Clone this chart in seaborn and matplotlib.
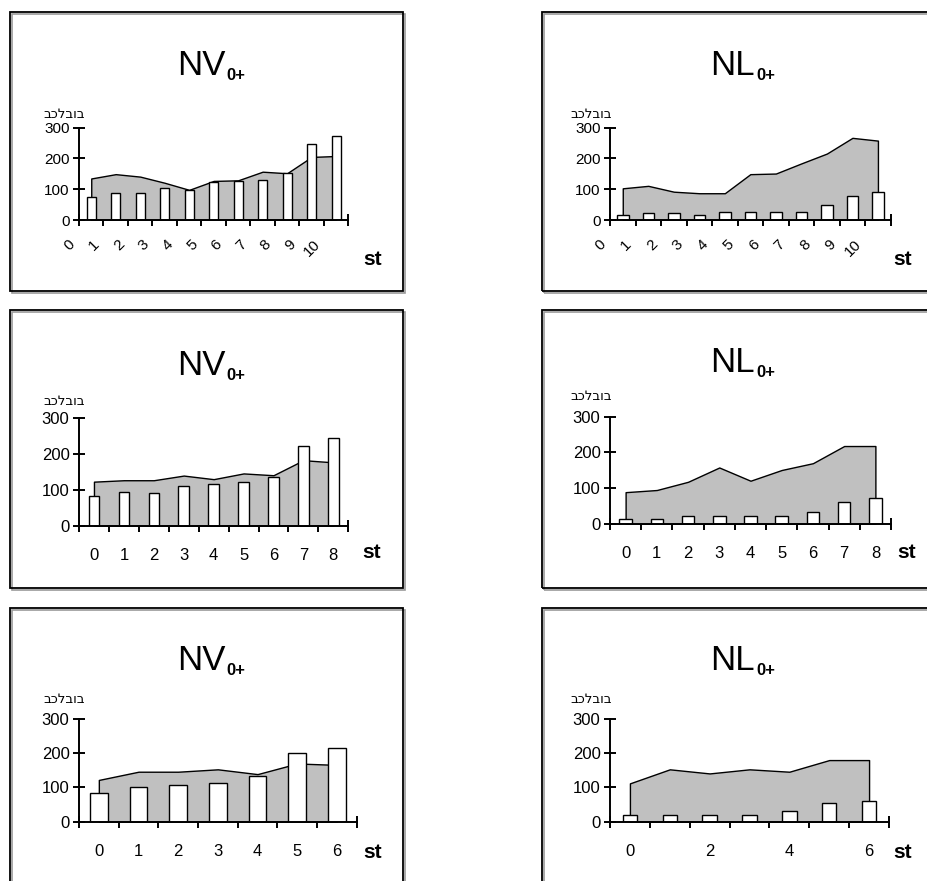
import numpy as np
import matplotlib
matplotlib.use("Agg")
import matplotlib.pyplot as plt
import seaborn as sns
from matplotlib.patches import Rectangle
from matplotlib.transforms import ScaledTranslation

# ---------------- data ----------------
st_top = [str(i) for i in range(11)]
st_mid = [str(i) for i in range(9)]
st_bot = [str(i) for i in range(7)]
st_bot_labels_right = ["0", "", "2", "", "4", "", "6"]

nv_top_bars = [74, 87, 87, 103, 97, 124, 128, 130, 152, 247, 273]
nv_top_area = [135, 149, 141, 121, 98, 127, 129, 157, 152, 205, 208]
nl_top_bars = [16, 22, 22, 16, 27, 27, 27, 27, 49, 79, 92]
nl_top_area = [103, 111, 92, 87, 87, 149, 151, 184, 216, 267, 258]

nv_mid_bars = [84, 94, 90, 112, 116, 123, 137, 222, 246]
nv_mid_area = [123, 127, 127, 140, 130, 146, 141, 183, 177]
nl_mid_bars = [13, 13, 23, 23, 23, 23, 34, 62, 74]
nl_mid_area = [89, 95, 118, 158, 121, 151, 170, 218, 218]

nv_bot_bars = [85, 100, 107, 112, 133, 200, 216]
nv_bot_area = [122, 146, 146, 153, 139, 170, 166]
nl_bot_bars = [19, 19, 19, 19, 32, 55, 60]
nl_bot_area = [112, 153, 141, 153, 146, 180, 180]

y_ticks = [0, 100, 200, 300]
title_nv = "NV"
title_nl = "NL"
title_sub = "0+"
y_unit = "בכלבוב"
x_name = "st"

# ---------------- style ----------------
sns.set_theme(style="white")
plt.rcParams["font.family"] = ["Liberation Sans", "DejaVu Sans"]

W, H = 927, 881
fig = plt.figure(figsize=(W / 100, H / 100), dpi=100)
fig.patch.set_facecolor("white")


def fx(x):
    return x / W


def fy(y):
    return 1 - y / H


AREA_GRAY = "#c0c0c0"

panels = [
    dict(cats=st_top, bars=nv_top_bars, area=nv_top_area, title=title_nv, mode="rot",
         ax=(79, 348.3, 220, 127.7), w=0.37, fs=11, labels=st_top,
         tpos=(225, 75), spos=(373, 259), ypos=(43, 118), box=(10, 12, 403, 291)),
    dict(cats=st_top, bars=nl_top_bars, area=nl_top_area, title=title_nl, mode="rot",
         ax=(610, 890.7, 220, 127.7), w=0.45, fs=11, labels=st_top,
         tpos=(755, 75), spos=(903, 259), ypos=(570, 118), box=(542, 12, 940, 291)),
    dict(cats=st_mid, bars=nv_mid_bars, area=nv_mid_area, title=title_nv, mode="flat",
         ax=(79, 348.3, 525.7, 418.3), w=0.35, fs=12, labels=st_mid,
         tpos=(225, 375), spos=(372, 553), ypos=(43, 405), box=(10, 310, 403, 588)),
    dict(cats=st_mid, bars=nl_mid_bars, area=nl_mid_area, title=title_nl, mode="flat",
         ax=(610, 891, 524, 416.7), w=0.40, fs=12, labels=st_mid,
         tpos=(755, 372), spos=(907, 553), ypos=(570, 400), box=(542, 310, 940, 588)),
    dict(cats=st_bot, bars=nv_bot_bars, area=nv_bot_area, title=title_nv, mode="flat",
         ax=(79, 356.7, 821.7, 719), w=0.45, fs=12, labels=st_bot,
         tpos=(225, 670), spos=(373, 852), ypos=(43, 703), box=(10, 608, 403, 900)),
    dict(cats=st_bot, bars=nl_bot_bars, area=nl_bot_area, title=title_nl, mode="flat",
         ax=(610, 889, 821.7, 719), w=0.36, fs=12, labels=st_bot_labels_right,
         tpos=(755, 670), spos=(903, 853), ypos=(570, 703), box=(542, 608, 940, 900)),
]

for p in panels:
    # panel box with a soft shadow
    bx0, by0, bx1, by1 = p["box"]
    fig.add_artist(Rectangle((fx(bx0) + 1.5 / W, fy(by1) - 1.5 / H), (bx1 - bx0) / W, (by1 - by0) / H,
                             transform=fig.transFigure, fill=False, edgecolor="#9a9a9a",
                             linewidth=1.2, zorder=0))
    fig.add_artist(Rectangle((fx(bx0), fy(by1)), (bx1 - bx0) / W, (by1 - by0) / H,
                             transform=fig.transFigure, fill=False, edgecolor="black",
                             linewidth=1.3, zorder=1))

    x0, x1, y0, y300 = p["ax"]
    ax = fig.add_axes([fx(x0), fy(y0), (x1 - x0) / W, (y0 - y300) / H])
    ax.set_facecolor("none")
    n = len(p["cats"])
    pos = np.arange(n)

    ax.fill_between(pos, p["area"], 0, facecolor=AREA_GRAY, edgecolor="black",
                    linewidth=1.0, zorder=1)
    sns.barplot(x=p["cats"], y=p["bars"], order=p["cats"], color="white", saturation=1,
                edgecolor="black", linewidth=1.0, width=p["w"], errorbar=None,
                ax=ax, zorder=3)

    ax.set_xlim(-0.5, n - 0.5)
    ax.set_ylim(0, 300)
    ax.set_xlabel("")
    ax.set_ylabel("")
    for s in ("top", "right"):
        ax.spines[s].set_visible(False)
    for s in ("left", "bottom"):
        ax.spines[s].set_color("black")
        ax.spines[s].set_linewidth(1.4)
        ax.spines[s].set_zorder(4)

    ax.set_yticks(y_ticks)
    ax.set_yticklabels([str(v) for v in y_ticks])
    ax.tick_params(axis="y", direction="inout", length=8.6, width=1.4, pad=2.5,
                   labelsize=p["fs"], colors="black", left=True)

    if p["mode"] == "rot":
        ax.set_xticks(np.arange(n + 1) - 0.5)
        ax.set_xticklabels(p["labels"] + [""], rotation=45, ha="right", va="center",
                           rotation_mode="anchor")
        ax.tick_params(axis="x", direction="inout", length=8.6, width=1.4, pad=12,
                       labelsize=p["fs"], colors="black", bottom=True)
        off = ScaledTranslation(-6 / 100, 0, fig.dpi_scale_trans)
        for lab in ax.get_xticklabels():
            lab.set_transform(lab.get_transform() + off)
    else:
        ax.set_xticks(pos)
        ax.set_xticklabels(p["labels"])
        ax.tick_params(axis="x", which="major", length=0, pad=16, labelsize=p["fs"],
                       colors="black")
        ax.set_xticks(np.arange(n + 1) - 0.5, minor=True)
        ax.tick_params(axis="x", which="minor", direction="inout", length=8.6, width=1.4,
                       bottom=True, colors="black")

    tx, ty = p["tpos"]
    fig.text(fx(tx), fy(ty), p["title"], ha="right", va="baseline", fontsize=25,
             color="black")
    fig.text(fx(tx + 1), fy(ty + 5), title_sub, ha="left", va="baseline", fontsize=12,
             fontweight="bold", color="black")
    sx, sy = p["spos"]
    fig.text(fx(sx), fy(sy), x_name, ha="center", va="center", fontsize=15,
             fontweight="bold", color="black")
    yx, yy = p["ypos"]
    fig.text(fx(yx), fy(yy), y_unit, ha="left", va="baseline", fontsize=9.5,
             family=["DejaVu Sans"], color="black")

fig.savefig("out.png", dpi=100, facecolor="white")
